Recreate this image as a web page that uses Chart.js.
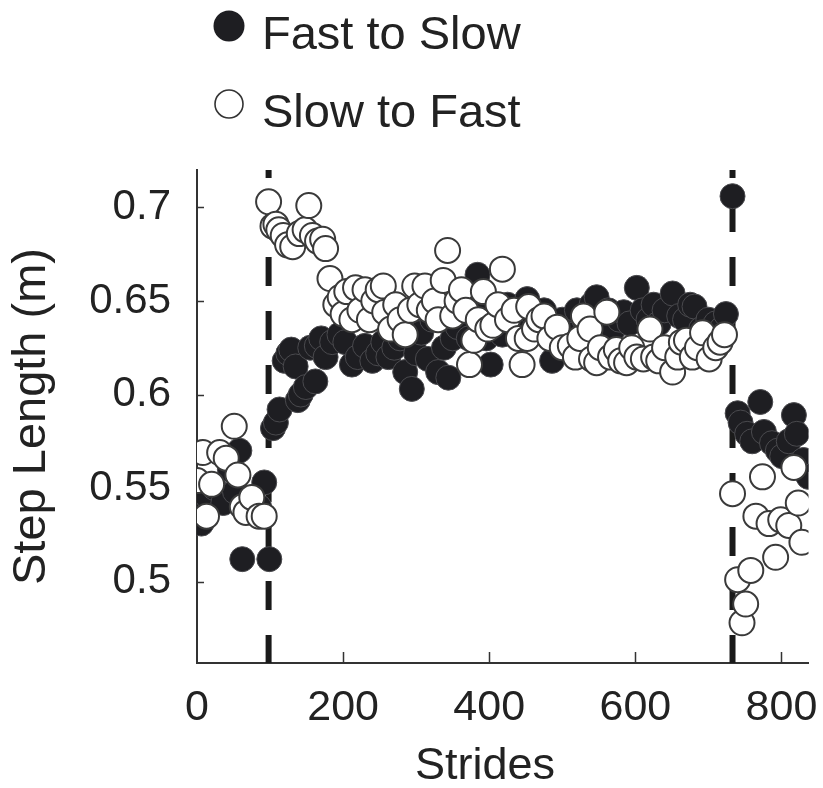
<!DOCTYPE html>
<html>
<head>
<meta charset="utf-8">
<script src="https://cdn.jsdelivr.net/npm/chart.js@4/dist/chart.umd.min.js"></script>
<style>
  html, body { margin: 0; padding: 0; background: #fff; }
  #wrap { width: 823px; height: 788px; }
</style>
</head>
<body>
<div id="wrap"><canvas id="stepChart" width="823" height="788"></canvas></div>
<script>
// tick labels
const strideTicks = [0, 200, 400, 600, 800];
const lengthTicks = [0.5, 0.55, 0.6, 0.65, 0.7];

// strides where the belt speed switched (dashed lines)
const switchStrides = [98, 733];

// Fast to Slow (filled)
const fastSlowStrides = [
  0, 6, 15, 24, 36, 45, 52, 58, 62, 75, 85, 92, 99,
  104, 108, 113, 120, 125, 129, 135, 138, 142, 149, 155, 162, 164, 170, 176, 185,
  195, 203, 212, 220, 230, 240, 248, 255, 262, 270, 278, 285, 294, 300, 307, 316,
  322, 330, 338, 344, 350, 357, 365, 372, 378, 384, 390, 396, 402, 410, 418, 425,
  432, 440, 447, 452, 460, 468, 475, 486, 493, 500, 510, 520, 530, 540, 547, 555,
  563, 570, 578, 584, 592, 602, 610, 618, 625, 632, 640, 651, 660, 668, 675, 681,
  690, 700, 710, 718, 724,
  733, 740, 744, 753, 760, 771, 776, 787, 795, 801, 810, 817, 821, 830, 837
];
const fastSlowLength = [
  0.546, 0.531, 0.545, 0.550, 0.542, 0.560, 0.548, 0.570, 0.512, 0.545, 0.540, 0.553, 0.512,
  0.582, 0.585, 0.592, 0.618, 0.622, 0.624, 0.615, 0.597, 0.600, 0.604, 0.625, 0.607, 0.626, 0.630, 0.620, 0.628,
  0.632, 0.628, 0.616, 0.620, 0.626, 0.618, 0.622, 0.628, 0.620, 0.625, 0.630, 0.612, 0.603, 0.622, 0.633, 0.619,
  0.640, 0.612, 0.625, 0.609, 0.630, 0.636, 0.645, 0.630, 0.652, 0.664, 0.648, 0.630, 0.616, 0.640, 0.632, 0.648,
  0.640, 0.645, 0.635, 0.651, 0.643, 0.638, 0.645, 0.618, 0.630, 0.640, 0.632, 0.645, 0.640, 0.648, 0.652, 0.640,
  0.645, 0.635, 0.640, 0.644, 0.638, 0.657, 0.645, 0.640, 0.648, 0.638, 0.645, 0.654, 0.642, 0.640, 0.648, 0.647,
  0.635, 0.640, 0.638, 0.635, 0.643,
  0.706, 0.590, 0.585, 0.579, 0.575, 0.596, 0.580, 0.574, 0.570, 0.567, 0.575, 0.589, 0.579, 0.565, 0.556
];

// Slow to Fast (open)
const slowFastStrides = [
  0, 8, 13, 20, 31, 40, 51, 56, 62, 67, 75, 85, 92,
  98, 104, 108, 112, 118, 124, 131, 140, 148, 153, 158, 165, 172, 176, 182, 190,
  196, 200, 205, 212, 217, 223, 230, 236, 242, 248, 255, 257, 265, 272, 278, 285,
  292, 298, 305, 312, 318, 325, 330, 337, 343, 350, 356, 362, 368, 373, 379, 385,
  392, 398, 405, 412, 418, 425, 434, 440, 445, 452, 454, 462, 468, 475, 483, 493,
  500, 511, 518, 524, 529, 538, 540, 547, 552, 561, 566, 574, 580, 588, 595, 602,
  611, 620, 625, 632, 640, 651, 658, 663, 670, 678, 685, 692, 701, 710, 716, 722,
  733, 740, 746, 751, 758, 765, 774, 783, 792, 799, 810, 817, 823, 828
];
const slowFastLength = [
  0.554, 0.569, 0.535, 0.552, 0.569, 0.566, 0.583, 0.557, 0.540, 0.537, 0.545, 0.535, 0.535,
  0.703, 0.690, 0.691, 0.688, 0.685, 0.680, 0.679, 0.686, 0.688, 0.701, 0.685, 0.682, 0.683, 0.678, 0.662, 0.648,
  0.652, 0.643, 0.655, 0.640, 0.657, 0.645, 0.656, 0.640, 0.650, 0.656, 0.658, 0.644, 0.635, 0.648, 0.640, 0.632,
  0.645, 0.658, 0.648, 0.658, 0.645, 0.650, 0.640, 0.661, 0.677, 0.642, 0.650, 0.656, 0.645, 0.616, 0.629, 0.640,
  0.655, 0.635, 0.637, 0.648, 0.667, 0.640, 0.645, 0.630, 0.616, 0.630, 0.647, 0.635, 0.640, 0.642, 0.630, 0.636,
  0.625, 0.626, 0.620, 0.630, 0.642, 0.635, 0.619, 0.617, 0.625, 0.644, 0.620, 0.624, 0.618, 0.617, 0.625, 0.620,
  0.619, 0.635, 0.620, 0.618, 0.625, 0.612, 0.620, 0.628, 0.629, 0.620, 0.625, 0.633, 0.619, 0.625, 0.628, 0.632,
  0.547, 0.501, 0.478, 0.488, 0.506, 0.535, 0.556, 0.531, 0.513, 0.533, 0.530, 0.561, 0.542, 0.521
];

const xMin = 0, xMax = 837;
const yMin = 0.4565, yMax = 0.72;

const FONT = '"Liberation Sans", Arial, Helvetica, sans-serif';
const INK = '#222';

function toPoints(xs, ys) {
  return xs.map((x, i) => ({ x: x, y: ys[i] }));
}

function switchLine(x) {
  return {
    type: 'line',
    data: [{ x: x, y: yMax }, { x: x, y: yMin }],
    borderColor: '#1a1a1a',
    borderWidth: 6,
    borderDash: [29, 25],
    borderDashOffset: 21,
    borderCapStyle: 'butt',
    pointRadius: 0,
    fill: false
  };
}

// inward tick marks, like the original figure
const innerTicks = {
  id: 'innerTicks',
  beforeDatasetsDraw(chart) {
    const { ctx, chartArea, scales } = chart;
    ctx.save();
    ctx.strokeStyle = '#333';
    ctx.lineWidth = 1.5;
    ctx.beginPath();
    lengthTicks.forEach(v => {
      const y = Math.round(scales.y.getPixelForValue(v)) + 0.5;
      ctx.moveTo(chartArea.left, y);
      ctx.lineTo(chartArea.left + 7, y);
    });
    strideTicks.forEach(v => {
      if (v === xMin) return;
      const x = Math.round(scales.x.getPixelForValue(v)) + 0.5;
      ctx.moveTo(x, chartArea.bottom);
      ctx.lineTo(x, chartArea.bottom - 11);
    });
    ctx.stroke();
    ctx.restore();
  }
};

// legend stacked top-left and the x title, placed as in the figure
const figureText = {
  id: 'figureText',
  afterDraw(chart) {
    const ctx = chart.ctx;
    ctx.save();
    ctx.fillStyle = '#1e1e22';
    ctx.beginPath();
    ctx.arc(229, 26, 15.5, 0, Math.PI * 2);
    ctx.fill();

    ctx.fillStyle = '#fff';
    ctx.strokeStyle = '#333';
    ctx.lineWidth = 1.6;
    ctx.beginPath();
    ctx.arc(229, 104, 14, 0, Math.PI * 2);
    ctx.fill();
    ctx.stroke();

    ctx.fillStyle = INK;
    ctx.font = '47px ' + FONT;
    ctx.textAlign = 'left';
    ctx.textBaseline = 'alphabetic';
    ctx.fillText('Fast to Slow', 262, 49);
    ctx.fillText('Slow to Fast', 262, 127);

    ctx.font = '45px ' + FONT;
    ctx.textAlign = 'center';
    ctx.fillText('Strides', 485, 779);
    ctx.restore();
  }
};

new Chart(document.getElementById('stepChart'), {
  type: 'scatter',
  data: {
    datasets: [
      {
        label: 'Slow to Fast',
        data: toPoints(slowFastStrides, slowFastLength),
        pointRadius: 12.5,
        pointBackgroundColor: '#ffffff',
        pointBorderColor: '#3a3a3a',
        pointBorderWidth: 2
      },
      {
        label: 'Fast to Slow',
        data: toPoints(fastSlowStrides, fastSlowLength),
        pointRadius: 12.5,
        pointBackgroundColor: '#1e1e22',
        pointBorderColor: '#4a4a4e',
        pointBorderWidth: 1
      },
      switchLine(switchStrides[0]),
      switchLine(switchStrides[1])
    ]
  },
  options: {
    responsive: false,
    animation: false,
    events: [],
    layout: { padding: { top: 170, right: 7, left: 0, bottom: 0 } },
    plugins: {
      legend: { display: false },
      tooltip: { enabled: false }
    },
    scales: {
      x: {
        type: 'linear',
        min: xMin,
        max: xMax,
        afterBuildTicks: s => { s.ticks = strideTicks.map(v => ({ value: v })); },
        afterFit: s => { s.height = 125; s.paddingLeft = 0; s.paddingRight = 0; },
        grid: { display: false },
        border: { display: true, color: '#333', width: 2 },
        ticks: {
          color: INK,
          font: { family: FONT, size: 43 },
          padding: 11,
          maxRotation: 0,
          callback: v => String(v)
        }
      },
      y: {
        type: 'linear',
        min: yMin,
        max: yMax,
        afterBuildTicks: s => { s.ticks = lengthTicks.map(v => ({ value: v })); },
        afterFit: s => { s.width = 197; s.paddingTop = 0; s.paddingBottom = 0; },
        grid: { display: false },
        border: { display: true, color: '#333', width: 2 },
        ticks: {
          color: INK,
          font: { family: FONT, size: 42 },
          padding: 18,
          callback: v => String(v)
        },
        title: {
          display: true,
          text: 'Step Length (m)',
          color: INK,
          font: { family: FONT, size: 47 },
          padding: { top: 4, bottom: 0 }
        }
      }
    }
  },
  plugins: [innerTicks, figureText]
});
</script>
</body>
</html>
